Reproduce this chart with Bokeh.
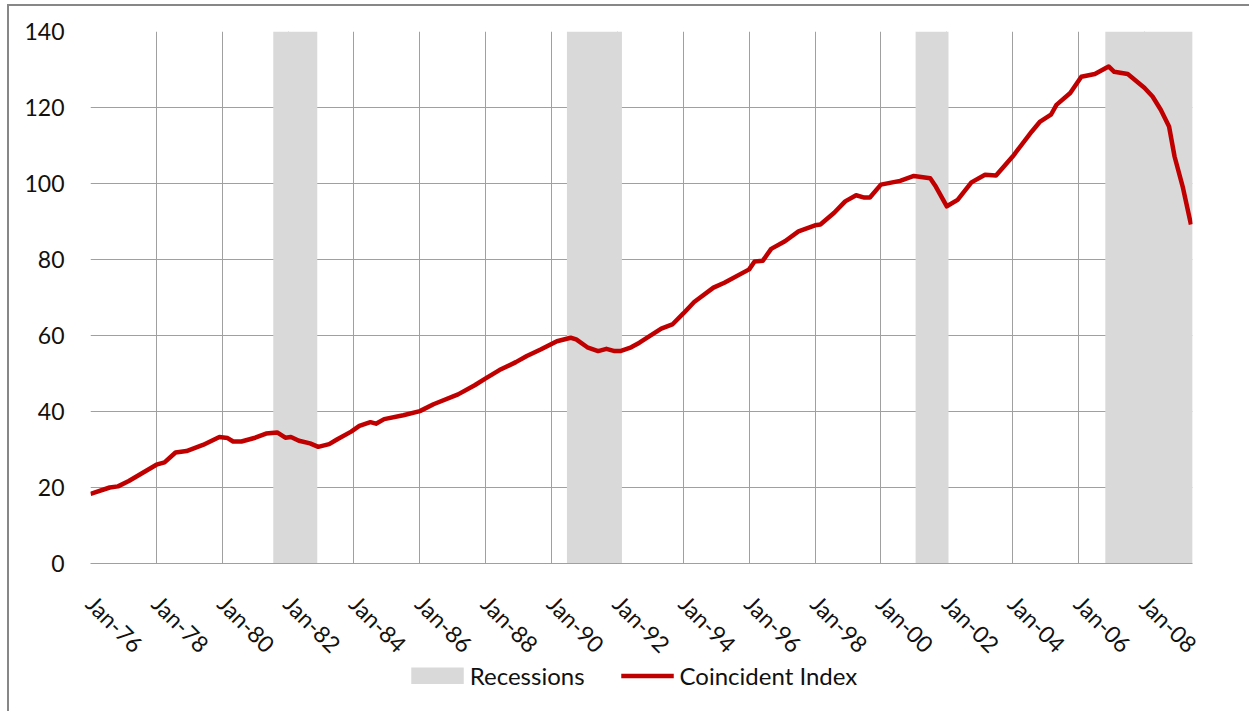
import pandas as pd
from bokeh.plotting import figure
from bokeh.layouts import column
from bokeh.models import (FixedTicker, DatetimeTickFormatter, Legend, LegendItem, Range1d)
from bokeh.embed import file_html
from bokeh.resources import INLINE

# ---- data ----
months = [
    "1976-01", "1976-08", "1976-11", "1977-03", "1978-01", "1978-04", "1978-08", "1978-12",
    "1979-06", "1979-12", "1980-03", "1980-05", "1980-08", "1981-01", "1981-05", "1981-09",
    "1981-12", "1982-02", "1982-05", "1982-09", "1982-12", "1983-04", "1983-07", "1983-12",
    "1984-03", "1984-07", "1984-09", "1984-12", "1985-07", "1986-01", "1986-06", "1987-03",
    "1987-09", "1988-01", "1988-06", "1988-12", "1989-04", "1989-09", "1990-03", "1990-08",
    "1990-10", "1991-02", "1991-06", "1991-09", "1991-12", "1992-02", "1992-06", "1992-09",
    "1993-05", "1993-09", "1994-01", "1994-05", "1994-12", "1995-04", "1996-01", "1996-03",
    "1996-06", "1996-09", "1997-02", "1997-07", "1998-01", "1998-03", "1998-08", "1998-12",
    "1999-04", "1999-07", "1999-09", "2000-01", "2000-08", "2001-01", "2001-07", "2001-09",
    "2002-01", "2002-05", "2002-10", "2003-03", "2003-07", "2004-01", "2004-08", "2004-11",
    "2005-03", "2005-05", "2005-10", "2006-02", "2006-07", "2006-12", "2007-02", "2007-07",
    "2008-01", "2008-04", "2008-07", "2008-10", "2008-12", "2009-03", "2009-06",
]
coincident_index = [
    18.3, 20.0, 20.3, 21.7, 26.0, 26.6, 29.2, 29.6,
    31.2, 33.3, 33.0, 32.1, 32.1, 33.1, 34.2, 34.5,
    33.1, 33.3, 32.3, 31.6, 30.7, 31.4, 32.7, 34.7,
    36.2, 37.2, 36.8, 38.0, 39.0, 40.1, 41.9, 44.5,
    46.9, 48.7, 50.9, 53.0, 54.6, 56.3, 58.5, 59.4,
    59.0, 56.9, 55.9, 56.5, 55.9, 55.9, 56.9, 58.1,
    61.8, 62.9, 65.8, 68.8, 72.6, 73.9, 77.4, 79.5,
    79.7, 82.8, 84.8, 87.4, 89.0, 89.2, 92.3, 95.3,
    96.9, 96.3, 96.3, 99.7, 100.7, 102.0, 101.4, 99.2,
    94.0, 95.7, 100.3, 102.3, 102.1, 107.1, 113.7, 116.3,
    118.1, 120.7, 123.8, 128.1, 128.8, 130.8, 129.4, 128.8,
    125.2, 122.9, 119.4, 115.0, 107.1, 99.2, 89.2,
]
recession_start = ["1981-07-20", "1990-06-20", "2001-01-20", "2006-10-25"]
recession_end = ["1982-11-20", "1992-02-20", "2002-01-20", "2009-06-20"]
x_tick_dates = ["%d-01-01" % y for y in range(1976, 2009, 2)]
y_ticks = [0, 20, 40, 60, 80, 100, 120, 140]
legend_labels = ["Recessions", "Coincident Index"]

FONT = "Lato"
GRID = "#a0a0a0"
REC_COLOR = "#d9d9d9"
LINE_COLOR = "#c00000"

x = pd.to_datetime(months)
p = figure(width=1240, height=665, x_axis_type="datetime",
           output_backend="svg", toolbar_location=None,
           x_range=Range1d(pd.Timestamp("1976-01-01"), pd.Timestamp("2009-06-18")),
           y_range=Range1d(0, 140),
           min_border_left=81, min_border_right=57, min_border_top=25, min_border_bottom=108)

p.quad(left=pd.to_datetime(recession_start), right=pd.to_datetime(recession_end),
       bottom=0, top=140, fill_color=REC_COLOR, line_color=None)
p.line(x, coincident_index, line_color=LINE_COLOR, line_width=4.5, line_join="round")

tick_ms = [pd.Timestamp(d).value / 1e6 for d in x_tick_dates]
p.xaxis.ticker = FixedTicker(ticks=tick_ms)
p.xaxis.formatter = DatetimeTickFormatter(years="%b-%y", months="%b-%y", days="%b-%y",
                                          hours="%b-%y", minutes="%b-%y")
p.yaxis.ticker = FixedTicker(ticks=y_ticks)

p.xaxis.major_label_orientation = -0.785398
p.outline_line_color = None
p.grid.grid_line_color = GRID
p.grid.grid_line_width = 1
p.xaxis.axis_line_color = GRID
p.yaxis.axis_line_color = None
for ax in (p.xaxis, p.yaxis):
    ax.major_tick_line_color = None
    ax.minor_tick_line_color = None
    ax.major_label_text_font = FONT
    ax.major_label_text_font_size = "23px"
    ax.major_label_text_color = "#111111"
p.yaxis.major_label_standoff = 20
p.xaxis.major_label_standoff = 30

# legend strip below the chart (proxy renderers sit outside the strip's visible range)
lg = figure(width=1226, height=50, output_backend="svg", toolbar_location=None,
            x_range=Range1d(0, 1), y_range=Range1d(0, 1),
            x_axis_location=None, y_axis_location=None,
            min_border_left=0, min_border_right=0, min_border_top=0, min_border_bottom=0,
            styles={"margin-top": "-10px"})
lg.outline_line_color = None
lg.grid.visible = False
q = lg.line(x=[5, 6], y=[5, 5], line_color=REC_COLOR, line_width=17, line_cap="butt")
l = lg.line(x=[5, 6], y=[5, 5], line_color=LINE_COLOR, line_width=4.5)
legend = Legend(items=[LegendItem(label=legend_labels[0], renderers=[q]),
                       LegendItem(label=legend_labels[1], renderers=[l])],
                orientation="horizontal", location="top_center",
                border_line_color=None, background_fill_alpha=0,
                label_text_font=FONT, label_text_font_size="24px", label_text_color="#111111",
                glyph_width=53, glyph_height=17, label_standoff=6, spacing=36,
                margin=0, padding=0)
lg.add_layout(legend, "center")

layout = column(p, lg, spacing=0,
                styles={"margin-left": "7px", "margin-top": "4px",
                        "border-left": "2px solid #878787", "border-top": "2px solid #878787"})

open("out.html", "w").write(file_html(layout, INLINE))
